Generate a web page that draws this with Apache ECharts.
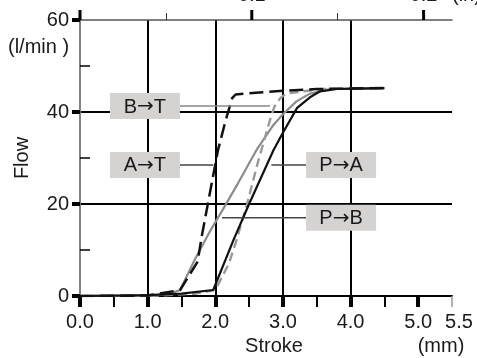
<!DOCTYPE html>
<html>
<head>
<meta charset="utf-8">
<script src="https://cdn.jsdelivr.net/npm/echarts@6/dist/echarts.min.js"></script>
<style>html,body{margin:0;padding:0;background:#fff}#c{width:477px;height:358px}</style>
</head>
<body>
<div id="c"></div>
<script>
// ---- data (stroke in mm, flow in l/min) ----
const pbX = [0, 0.5, 1.0, 1.3, 1.48, 1.7, 1.93, 2.1, 2.34, 2.62, 2.85, 3.0, 3.2, 3.4, 3.7, 4.5];
const pbY = [0, 0, 0.1, 0.4, 1.3, 8, 14.3, 18.5, 24.6, 32, 37, 39.5, 42.3, 44, 45, 45.2];

const btX = [0, 1.0, 1.7, 2.0, 2.2, 2.3, 2.47, 2.62, 2.81, 2.87, 2.96, 3.05, 3.3, 3.6, 4.5];
const btY = [0, 0, 0.5, 1.3, 7, 11.5, 20, 28.5, 38.3, 41, 43, 44, 44.5, 45, 45.2];

const paX = [0, 1.0, 1.5, 1.97, 2.27, 2.5, 2.86, 3.0, 3.21, 3.4, 3.55, 3.8, 4.5];
const paY = [0, 0.2, 0.5, 1.3, 12.2, 20, 31.7, 35.5, 40.9, 43.2, 44.5, 45, 45.2];

const atX = [0, 1.0, 1.48, 1.74, 1.8, 2.04, 2.15, 2.25, 2.3, 2.6, 3.0, 3.5, 4.5];
const atY = [0, 0.1, 1.3, 7.5, 13, 31.7, 38, 43, 43.8, 44.2, 44.6, 45, 45.2];

const xTickLabels = [0, 1, 2, 3, 4, 5, 5.5];
const xMajorTicks = [0, 1, 2, 3, 4, 5];
const xMinorTicks = [0.5, 1.5, 2.5, 3.5, 4.5];
const xEndTick = [5.5];
const yMajorTicks = [0, 20, 40, 60];
const yMinorTicks = [10, 30, 50];
// top scale in inches (1 in = 25.4 mm)
const MM_PER_IN = 25.4;
const inchMajorTicks = [0, 0.1, 0.2];
const inchMinorTicks = [0.05, 0.15];
const inchLabels = [0.1, 0.2];

// annotation labels (data coordinates)
const annFrom = ['B', 'A', 'P', 'P'];
const annTo = ['T', 'T', 'A', 'B'];
const annBoxX = [0.96, 0.96, 3.86, 3.86];
const annBoxY = [41.3, 28.5, 28.5, 17];
const annPointX = [2.81, 1.97, 2.83, 2.1];

const zip = (xs, ys) => xs.map((x, i) => [x, ys[i]]);
const toMm = arr => arr.map(v => Math.round(v * MM_PER_IN * 1000) / 1000);
const FONT = 'Liberation Sans, Arial, sans-serif';
const TXT = '#1a1a1a';
const FS = 20;

function tickOnlyAxis(pos, min, max, values, len, color, width) {
  return {
    type: 'value', position: pos, min: min, max: max,
    axisLine: {show: false},
    axisTick: {show: true, customValues: values, length: len, lineStyle: {color: color, width: width}},
    axisLabel: {show: false},
    splitLine: {show: false}
  };
}

const chart = echarts.init(document.getElementById('c'), null, {renderer: 'canvas'});

const option = {
  animation: false,
  backgroundColor: '#fff',
  textStyle: {fontFamily: FONT},
  grid: {left: 80, right: 25, top: 20, bottom: 62, containLabel: false, outerBoundsMode: 'none'},
  xAxis: [
    {
      type: 'value', position: 'bottom', min: 0, max: 5.5, interval: 1,
      axisLine: {show: true, lineStyle: {color: '#000', width: 2}},
      axisTick: {show: true, customValues: xMajorTicks, length: 11, lineStyle: {color: '#000', width: 4}},
      axisLabel: {
        customValues: xTickLabels,
        formatter: v => (v === 5.5 ? '{s|5.5}' : v.toFixed(1)),
        fontSize: FS, color: TXT, margin: 16, fontFamily: FONT,
        rich: {s: {fontSize: FS, color: TXT, fontFamily: FONT, padding: [0, 0, 0, 14]}}
      },
      splitLine: {show: true, showMinLine: false, showMaxLine: false, lineStyle: {color: '#000', width: 2}},
      name: 'Stroke', nameLocation: 'middle', nameGap: 40,
      nameTextStyle: {fontSize: FS, color: TXT, fontFamily: FONT, padding: [0, 0, 0, 16]}
    },
    tickOnlyAxis('bottom', 0, 5.5, xMinorTicks, 11, '#000', 2),
    tickOnlyAxis('bottom', 0, 5.5, xEndTick, 11, '#999', 1.5),
    {
      type: 'value', position: 'top', min: 0, max: 5.5,
      axisLine: {show: true, lineStyle: {color: '#555', width: 1.5}},
      axisTick: {show: false},
      axisLabel: {customValues: toMm(inchLabels), formatter: v => (v / MM_PER_IN).toFixed(1), fontSize: FS, color: TXT, margin: 15, fontFamily: FONT},
      splitLine: {show: false}
    },
    tickOnlyAxis('top', 0, 5.5, toMm(inchMinorTicks), 7, '#333', 1)
  ],
  yAxis: [
    {
      type: 'value', position: 'left', min: 0, max: 60, interval: 20,
      axisLine: {show: true, lineStyle: {color: '#000', width: 1.5}},
      axisTick: {show: true, customValues: yMajorTicks, length: 8, lineStyle: {color: '#000', width: 4}},
      axisLabel: {customValues: yMajorTicks, fontSize: FS, color: TXT, margin: 11, fontFamily: FONT},
      splitLine: {show: true, showMinLine: false, showMaxLine: false, lineStyle: {color: '#000', width: 2}},
      name: 'Flow', nameLocation: 'middle', nameGap: 48, nameRotate: 90,
      nameTextStyle: {fontSize: FS, color: TXT, fontFamily: FONT}
    },
    {
      type: 'value', position: 'left', min: 0, max: 60,
      axisLine: {show: false},
      axisTick: {show: true, inside: true, customValues: yMinorTicks, length: 10, lineStyle: {color: '#000', width: 1.5}},
      axisLabel: {show: false},
      splitLine: {show: false}
    },
    {
      type: 'value', position: 'right', min: 0, max: 60,
      axisLine: {show: true, lineStyle: {color: '#999', width: 1.5}},
      axisTick: {show: false},
      axisLabel: {show: false},
      splitLine: {show: false}
    }
  ],
  series: [
    {name: 'P→B', type: 'line', data: zip(pbX, pbY), symbol: 'none', lineStyle: {color: '#8c8c8c', width: 2.2}, z: 3},
    {name: 'B→T', type: 'line', data: zip(btX, btY), symbol: 'none', lineStyle: {color: '#999', width: 2.4, type: [9, 5]}, z: 3},
    {name: 'P→A', type: 'line', data: zip(paX, paY), symbol: 'none', lineStyle: {color: '#111', width: 2.2}, z: 4},
    {name: 'A→T', type: 'line', data: zip(atX, atY), symbol: 'none', lineStyle: {color: '#111', width: 2.5, type: [14, 6]}, z: 4}
  ]
};
chart.setOption(option);

const toPx = (x, y) => chart.convertToPixel({xAxisIndex: 0, yAxisIndex: 0}, [x, y]);

// annotation boxes and leader lines, placed through the chart's own coordinate system
const BOX_W = 70, BOX_H = 26;
const graphics = [];
annFrom.forEach((f, i) => {
  const c = toPx(annBoxX[i], annBoxY[i]);
  const p = toPx(annPointX[i], annBoxY[i]);
  const boxEdge = p[0] > c[0] ? c[0] + BOX_W / 2 : c[0] - BOX_W / 2;
  graphics.push({
    type: 'line', z: 10,
    shape: {x1: boxEdge, y1: c[1], x2: p[0], y2: c[1]},
    style: {stroke: i === 0 ? '#888' : '#444', lineWidth: 1.5}
  });
  graphics.push({
    type: 'rect', z: 11,
    shape: {x: c[0] - BOX_W / 2, y: c[1] - BOX_H / 2, width: BOX_W, height: BOX_H},
    style: {fill: '#d5d2d2'}
  });
  graphics.push({
    type: 'text', z: 12, x: c[0], y: c[1] + 1,
    style: {
      text: '{a|' + f + '}{r|→}{a|' + annTo[i] + '}',
      align: 'center', verticalAlign: 'middle',
      rich: {
        a: {fontSize: FS, fontFamily: FONT, fill: TXT, color: TXT},
        r: {fontSize: 20, fontFamily: 'DejaVu Sans', fill: TXT, color: TXT}
      }
    }
  });
});
// major inch ticks on the top edge, positioned through the main cartesian scale
toMm(inchMajorTicks).forEach(v => {
  const t = toPx(v, 60);
  graphics.push({
    type: 'rect', z: 20,
    shape: {x: t[0] - 1.5, y: t[1] - 10, width: 3, height: 10},
    style: {fill: '#000'}
  });
});
// unit texts
graphics.push({type: 'text', x: 8, y: 47, style: {text: '(l/min )', fontSize: FS, fontFamily: FONT, fill: TXT, align: 'left', verticalAlign: 'middle'}});
graphics.push({type: 'text', x: 441, y: 346, style: {text: '(mm)', fontSize: FS, fontFamily: FONT, fill: TXT, align: 'center', verticalAlign: 'middle'}});
graphics.push({type: 'text', x: 452, y: 5, style: {text: '(in)', fontSize: FS, fontFamily: FONT, fill: TXT, align: 'left', verticalAlign: 'bottom'}});
chart.setOption({graphic: graphics});
</script>
</body>
</html>
